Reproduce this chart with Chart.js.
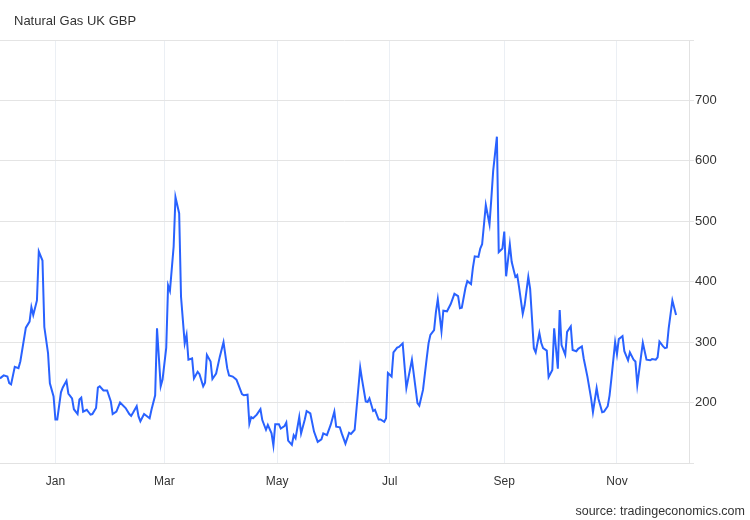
<!DOCTYPE html>
<html>
<head>
<meta charset="utf-8">
<script src="https://cdn.jsdelivr.net/npm/chart.js@4.4.1/dist/chart.umd.min.js"></script>
<style>
  body{margin:0;background:#fff;font-family:"Liberation Sans",Arial,sans-serif;}
  #wrap{position:relative;width:750px;height:520px;}
  #title{position:absolute;left:14px;top:13px;font-size:13px;color:#333;}
  #source{position:absolute;right:5px;top:504px;font-size:12.5px;color:#333;}
  canvas{position:absolute;left:0;top:0;}
</style>
</head>
<body>
<div id="wrap">
  <canvas id="gas" width="750" height="520"></canvas>
  <div id="title">Natural Gas UK GBP</div>
  <div id="source">source: tradingeconomics.com</div>
</div>
<script>
// days counted from 1 Jan 2022 (negative = Dec 2021), price in GBp/therm
const days = [-30,-28,-26,-25,-24,-22,-20,-19,-16,-14,-13,-12,-10,-9,-7,-6,-4,-3,-1,
  0,1,3,4,6,7,9,10,12,13,14,15,17,18,19,20,22,23,24,26,27,28,30,31,33,35,38,40,41,42,44,45,46,48,51,52,54,55,57,58,
  60,61,62,64,65,67,68,70,71,72,74,75,77,78,80,81,82,84,85,87,89,91,93,94,96,98,99,101,102,104,105,106,107,109,111,112,114,115,117,118,119,
  121,122,124,125,126,128,129,130,132,133,135,136,138,140,142,144,145,147,149,151,152,154,155,157,159,160,162,165,166,168,169,170,172,173,175,176,178,179,180,
  182,183,185,186,188,190,193,196,197,199,201,202,203,205,206,207,209,210,212,214,216,218,219,220,222,223,225,226,227,229,230,231,233,235,236,237,239,240,
  242,243,244,246,247,249,250,251,253,254,256,257,259,260,262,263,264,266,267,269,270,272,273,274,276,277,279,280,282,283,285,286,288,290,291,293,294,296,297,299,300,
  301,303,304,305,307,308,310,311,313,314,315,317,318,320,322,323,325,326,327,329,330,331,332,334,336];
const prices = [240,245,243,232,230,259,257,268,324,334,358,345,369,450,435,325,282,232,210,
  172,172,217,225,236,215,207,189,181,205,208,185,188,184,180,181,191,225,227,220,220,220,202,181,185,200,191,181,178,183,194,177,169,181,174,188,212,323,227,238,
  291,394,385,458,540,513,375,298,312,271,273,240,251,247,227,233,279,268,239,248,276,300,257,245,243,238,230,214,212,213,165,176,174,180,189,171,155,163,149,129,164,
  164,157,161,167,137,130,146,141,176,149,172,186,182,152,135,139,149,146,163,185,160,159,149,132,150,148,155,258,238,202,201,207,186,188,172,172,168,174,249,
  243,283,291,292,298,224,271,199,195,221,273,298,312,320,350,371,318,352,351,363,380,376,356,357,390,401,396,423,442,441,455,462,527,495,538,584,640,449,
  455,483,409,462,433,408,411,391,347,361,408,388,290,283,315,299,290,286,242,254,323,256,353,295,279,317,326,287,285,289,293,273,243,207,184,224,206,184,185,194,212,
  240,300,280,305,310,285,270,283,271,268,229,276,299,271,270,272,271,275,301,293,290,291,323,369,345];

const monthTicks = [0,59,120,181,243,304];
const monthLabels = ['Jan','Mar','May','Jul','Sep','Nov'];
const yTicks = [200,300,400,500,600,700];

const points = days.map((d,i)=>({x:d, y:prices[i]}));

new Chart(document.getElementById('gas'),{
  type:'line',
  data:{datasets:[{
    data:points, borderColor:'#2962ff', borderWidth:2, pointRadius:0, tension:0, fill:false
  }]},
  options:{
    responsive:false, animation:false,
    layout:{padding:{top:40,bottom:27,left:0,right:0}},
    plugins:{legend:{display:false}, tooltip:{enabled:false}},
    scales:{
      x:{
        type:'linear', min:-30, max:343,
        afterBuildTicks:s=>{ s.ticks = monthTicks.map(v=>({value:v})); },
        afterFit:s=>{ s.height = 30; },
        ticks:{
          autoSkip:false, maxRotation:0, padding:11, color:'#333',
          font:{family:'"Liberation Sans", Arial', size:12},
          callback:v=>monthLabels[monthTicks.indexOf(v)] || ''
        },
        grid:{color:'#ebeff4', drawTicks:false},
        border:{color:'#e2e2e2'}
      },
      y:{
        position:'right', min:100, max:800,
        afterBuildTicks:s=>{ s.ticks = [100,...yTicks,800].map(v=>({value:v})); },
        afterFit:s=>{ s.width = 61; },
        ticks:{
          padding:1, color:'#333',
          font:{family:'"Liberation Sans", Arial', size:13},
          callback:v=>yTicks.includes(v) ? String(v) : ''
        },
        grid:{color:'#e4e4e4', tickLength:5},
        border:{color:'#e2e2e2'}
      }
    }
  }
});
</script>
</body>
</html>
